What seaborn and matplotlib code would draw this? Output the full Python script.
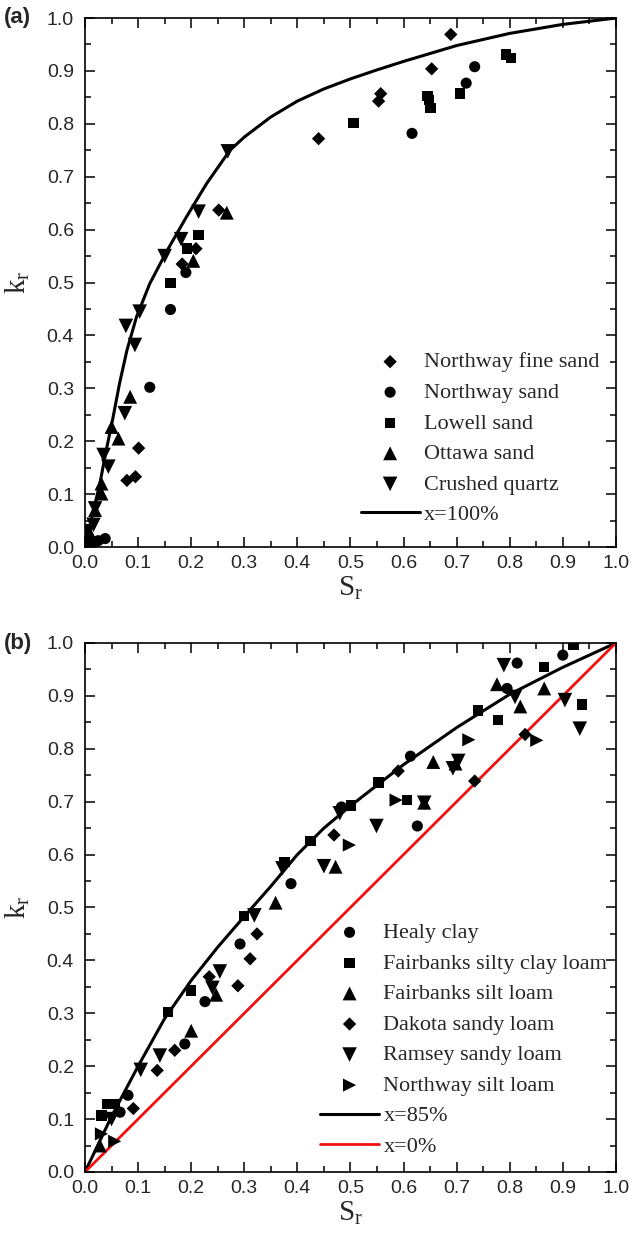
"""Relative thermal conductivity k_r vs degree of saturation S_r, two panels."""
import matplotlib
matplotlib.use('Agg')
import numpy as np
import pandas as pd
import matplotlib.pyplot as plt
import seaborn as sns
from matplotlib.ticker import MultipleLocator

# ---- panel (a): coarse soils ----
nfs_s = [0.010, 0.079, 0.095, 0.101, 0.183, 0.209, 0.252, 0.440, 0.553, 0.557, 0.653, 0.689]
nfs_k = [0.005, 0.126, 0.133, 0.187, 0.535, 0.564, 0.637, 0.772, 0.843, 0.857, 0.904, 0.969]
ns_s = [0.025, 0.038, 0.122, 0.161, 0.190, 0.616, 0.718, 0.734]
ns_k = [0.012, 0.016, 0.302, 0.449, 0.519, 0.782, 0.877, 0.908]
lowell_s = [0.005, 0.015, 0.161, 0.192, 0.214, 0.506, 0.645, 0.648, 0.651, 0.706, 0.793, 0.802]
lowell_k = [0.015, 0.008, 0.499, 0.564, 0.590, 0.802, 0.853, 0.845, 0.830, 0.857, 0.931, 0.925]
ottawa_s = [0.012, 0.019, 0.031, 0.031, 0.050, 0.063, 0.085, 0.204, 0.267]
ottawa_k = [0.020, 0.070, 0.101, 0.120, 0.227, 0.205, 0.284, 0.541, 0.632]
quartz_s = [0.005, 0.016, 0.019, 0.035, 0.044, 0.075, 0.077, 0.094, 0.103, 0.150, 0.181, 0.214, 0.269]
quartz_k = [0.030, 0.042, 0.073, 0.174, 0.152, 0.253, 0.418, 0.382, 0.445, 0.550, 0.582, 0.634, 0.748]

# x=100% model curve
fit100_s = [0.0, 0.013, 0.028, 0.040, 0.053, 0.065, 0.079, 0.097, 0.122, 0.155, 0.191,
            0.229, 0.273, 0.30, 0.35, 0.40, 0.45, 0.50, 0.55, 0.60, 0.70, 0.80, 0.90, 1.0]
fit100_k = [0.0, 0.057, 0.120, 0.183, 0.246, 0.309, 0.372, 0.435, 0.498, 0.561, 0.624,
            0.687, 0.750, 0.775, 0.813, 0.843, 0.866, 0.885, 0.902, 0.918, 0.948, 0.971, 0.988, 1.0]

# ---- panel (b): fine soils ----
healy_s = [0.066, 0.081, 0.188, 0.226, 0.292, 0.388, 0.483, 0.613, 0.626, 0.795, 0.814, 0.900]
healy_k = [0.113, 0.145, 0.242, 0.322, 0.431, 0.545, 0.690, 0.786, 0.654, 0.914, 0.962, 0.977]
fscl_s = [0.031, 0.041, 0.056, 0.156, 0.200, 0.299, 0.376, 0.425, 0.501, 0.553, 0.606,
          0.740, 0.778, 0.865, 0.936, 0.920]
fscl_k = [0.107, 0.129, 0.129, 0.302, 0.343, 0.484, 0.586, 0.626, 0.693, 0.736, 0.703,
          0.872, 0.854, 0.955, 0.884, 0.996]
fsl_s = [0.028, 0.200, 0.247, 0.359, 0.472, 0.639, 0.656, 0.698, 0.776, 0.820, 0.865]
fsl_k = [0.050, 0.267, 0.335, 0.509, 0.577, 0.698, 0.775, 0.772, 0.922, 0.880, 0.914]
dakota_s = [0.091, 0.136, 0.169, 0.234, 0.288, 0.311, 0.324, 0.469, 0.590, 0.734, 0.829]
dakota_k = [0.120, 0.192, 0.230, 0.369, 0.352, 0.403, 0.450, 0.637, 0.758, 0.739, 0.827]
ramsey_s = [0.050, 0.105, 0.141, 0.240, 0.254, 0.319, 0.372, 0.450, 0.480, 0.549, 0.639,
            0.693, 0.703, 0.789, 0.810, 0.904, 0.932]
ramsey_k = [0.100, 0.193, 0.220, 0.348, 0.379, 0.485, 0.574, 0.578, 0.678, 0.654, 0.698,
            0.763, 0.777, 0.958, 0.898, 0.892, 0.838]
nsl_s = [0.031, 0.056, 0.498, 0.586, 0.723, 0.851]
nsl_k = [0.072, 0.058, 0.618, 0.703, 0.817, 0.816]

fit85_s = [0.0, 0.05, 0.10, 0.15, 0.20, 0.25, 0.30, 0.35, 0.40, 0.45, 0.50, 0.60, 0.70, 0.80, 0.90, 1.0]
fit85_k = [0.0, 0.105, 0.200, 0.290, 0.362, 0.425, 0.483, 0.540, 0.600, 0.650, 0.692,
           0.770, 0.840, 0.903, 0.954, 1.0]
fit0_s = [0.0, 1.0]
fit0_k = [0.0, 1.0]

sns.set_style('ticks')
plt.rcParams['font.family'] = ['Liberation Sans', 'DejaVu Sans']
plt.rcParams['mathtext.fontset'] = 'custom'
plt.rcParams['mathtext.rm'] = 'Liberation Serif'
plt.rcParams['mathtext.it'] = 'Liberation Serif:italic'

MK = {'D': 46, 'o': 64, 's': 56, '^': 100, 'v': 110, '>': 90}


def draw_panel(ax, soils, curves, anchor):
    for name, xs, ys, m in soils:
        df = pd.DataFrame({'S': xs, 'k': ys})
        sns.scatterplot(data=df, x='S', y='k', marker=m, s=MK[m], color='black',
                        edgecolor='none', linewidth=0, ax=ax, label=name, zorder=3)
    for name, xs, ys, c, lw in curves:
        df = pd.DataFrame({'S': xs, 'k': ys})
        sns.lineplot(data=df, x='S', y='k', color=c, lw=lw, ax=ax, label=name,
                     sort=False, errorbar=None, zorder=2)

    ax.set_xlim(0, 1)
    ax.set_ylim(0, 1)
    ax.xaxis.set_major_locator(MultipleLocator(0.1))
    ax.xaxis.set_minor_locator(MultipleLocator(0.05))
    ax.yaxis.set_major_locator(MultipleLocator(0.1))
    ax.yaxis.set_minor_locator(MultipleLocator(0.05))
    ax.tick_params(which='both', direction='in', top=True, right=True, width=1.1,
                   labelsize=14, color='black')
    ax.tick_params(which='major', length=7)
    ax.tick_params(which='minor', length=4)
    ax.tick_params(axis='x', which='major', pad=5.5)
    ax.tick_params(axis='y', which='major', pad=8)
    ax.set_xticklabels([f'{v:.1f}' for v in ax.get_xticks()])
    ax.set_yticklabels([f'{v:.1f}' for v in ax.get_yticks()])
    for sp in ax.spines.values():
        sp.set_linewidth(1.2)
        sp.set_color('black')

    ax.set_xlabel(r'$\mathrm{S_r}$', fontsize=21, labelpad=2)
    ax.set_ylabel(r'$\mathrm{k_r}$', fontsize=21, labelpad=2)
    ax.yaxis.set_label_coords(-0.1, 0.5)

    ax.legend(loc='lower right', bbox_to_anchor=anchor, frameon=False,
              prop={'family': 'Liberation Serif', 'size': 16}, handlelength=2.65,
              handletextpad=0.2, labelspacing=0.45, borderaxespad=0.2)


fig = plt.figure(figsize=(6.32, 12.36), dpi=100)
ax_a = fig.add_axes([0.1345, 0.5574, 0.840, 0.428])
ax_b = fig.add_axes([0.1345, 0.0518, 0.840, 0.428])

draw_panel(ax_a,
           [('Northway fine sand', nfs_s, nfs_k, 'D'),
            ('Northway sand', ns_s, ns_k, 'o'),
            ('Lowell sand', lowell_s, lowell_k, 's'),
            ('Ottawa sand', ottawa_s, ottawa_k, '^'),
            ('Crushed quartz', quartz_s, quartz_k, 'v')],
           [('x=100%', fit100_s, fit100_k, 'black', 2.2)], (0.994, 0.016))

draw_panel(ax_b,
           [('Healy clay', healy_s, healy_k, 'o'),
            ('Fairbanks silty clay loam', fscl_s, fscl_k, 's'),
            ('Fairbanks silt loam', fsl_s, fsl_k, '^'),
            ('Dakota sandy loam', dakota_s, dakota_k, 'D'),
            ('Ramsey sandy loam', ramsey_s, ramsey_k, 'v'),
            ('Northway silt loam', nsl_s, nsl_k, '>')],
           [('x=85%', fit85_s, fit85_k, 'black', 2.2),
            ('x=0%', fit0_s, fit0_k, '#f01010', 2.0)], (1.009, 0.003))

fig.text(0.006, 1 - 18 / 1236, '(a)', fontsize=16, fontweight='bold', va='center', ha='left')
fig.text(0.006, 1 - 643 / 1236, '(b)', fontsize=16, fontweight='bold', va='center', ha='left')

fig.savefig('out.png', dpi=100)
plt.close(fig)
